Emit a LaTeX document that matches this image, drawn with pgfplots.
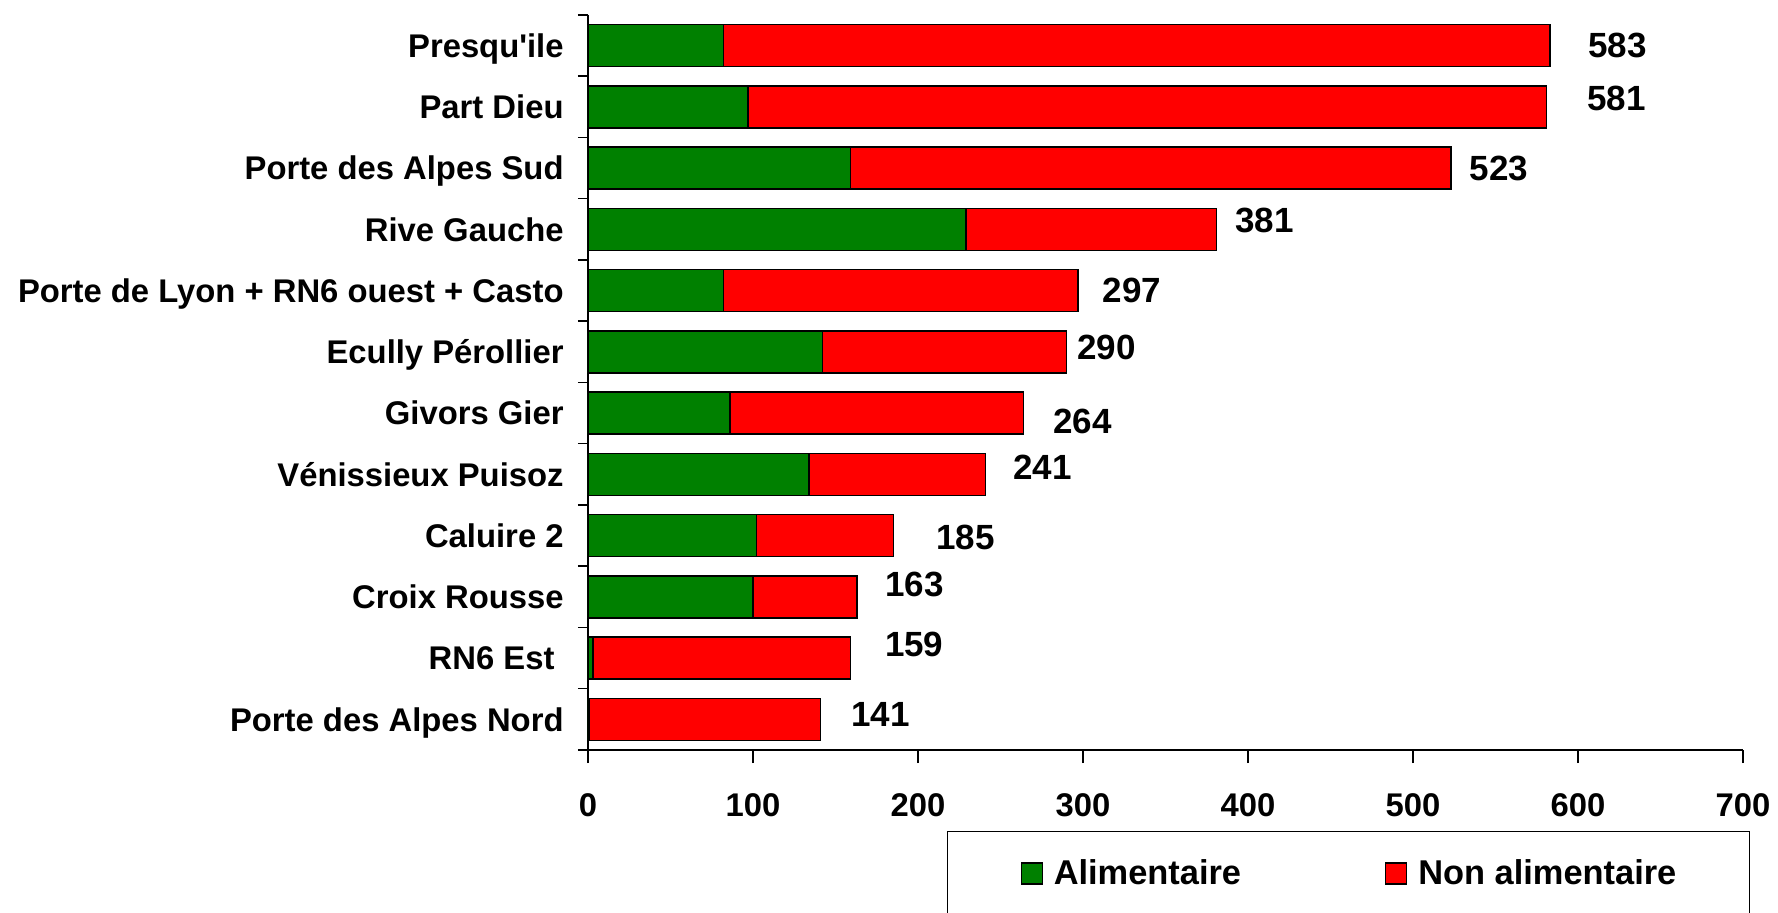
\documentclass[border=0pt]{standalone}
\usepackage{fontspec}
\setmainfont{Liberation Sans}
\usepackage{pgfplots}
\usepackage{pgfplotstable}
\pgfplotsset{compat=1.18}

\definecolor{alimgreen}{RGB}{0,128,0}
\definecolor{nonalimred}{RGB}{255,0,0}

% Surfaces de vente par pôle : alimentaire / non alimentaire, total,
% et décalage (pt) de l'étiquette du total par rapport au bout de la barre
\pgfplotstableread{
idx alim non total dx dy
0   82   501 583  18.75  0
1   97   484 581  20     4
2   159  364 523  9      0
3   229  152 381  9      4.5
4   82   215 297  12     0
5   142  148 290  5      2
6   86   178 264  14.5  -4
7   134  107 241  13.5   3.5
8   102  83  185  21.3  -0.75
9   100  63  163  13.8   6.25
10  3    156 159  17     6.7
11  1    140 141  15     2.5
}\poles

\newcommand{\lblfont}{\fontsize{16.4}{19.7}\selectfont\bfseries}
\newcommand{\valfont}{\fontsize{17.5}{21}\selectfont\bfseries}
\newcommand{\legfont}{\fontsize{17.2}{20.6}\selectfont\bfseries}

\begin{document}
\begin{tikzpicture}
\path[use as bounding box] (0,0) rectangle (889pt,456.5pt);
\begin{axis}[
  at={(294pt,81.5pt)}, anchor=south west,
  scale only axis, width=577.5pt, height=367.5pt,
  xbar stacked, bar width=21pt,
  xmin=0, xmax=700, ymin=-0.5, ymax=11.5, y dir=reverse,
  axis x line*=bottom, axis y line*=left,
  axis line style={line width=0.75pt},
  tick align=outside,
  major tick length=5pt,
  tick style={line width=0.75pt, black},
  xtick={0,100,...,700},
  xtick style={/pgfplots/major tick length=6.5pt},
  xticklabel style={font=\lblfont, inner sep=0pt, anchor=north, yshift=-16.7pt},
  /pgf/number format/assume math mode=true,
  ytick={-0.5,0.5,...,11.5}, yticklabels={},
  extra y ticks={0,1,...,11},
  extra y tick labels={Presqu\textquotesingle ile, Part Dieu, Porte des Alpes Sud,
    Rive Gauche, Porte de Lyon + RN6 ouest + Casto, Ecully Pérollier,
    Givors Gier, Vénissieux Puisoz, Caluire 2, Croix Rousse,
    RN6 Est\hspace*{0.278em}, Porte des Alpes Nord},
  extra y tick style={major tick length=0pt,
    yticklabel style={font=\lblfont, inner sep=0pt, anchor=base east,
      xshift=-12pt, yshift=-5.9pt}},
  legend columns=2,
  legend style={at={(0.3108,-0.1102)}, anchor=north west,
    draw=black, line width=0.6pt, inner xsep=36.5pt, inner ysep=14pt,
    font=\legfont, nodes={inner sep=0pt},
    /tikz/every even column/.append style={column sep=72pt},
    /tikz/every odd column/.append style={column sep=5.5pt}},
  legsq/.style={legend image code/.code={
    \draw[##1, line width=0.6pt] (0pt,-5.25pt) rectangle (10.5pt,5.25pt);}},
]
\addplot[fill=alimgreen, draw=black, line width=0.65pt, legsq]
  table[x=alim, y=idx]{\poles};
% les étiquettes des totaux partent du milieu du segment rouge :
% on les repousse d'une demi-longueur de segment (0.825pt par unité)
\addplot[fill=nonalimred, draw=black, line width=0.65pt, legsq,
  nodes near coords, point meta=explicit symbolic,
  visualization depends on={\thisrow{non}*0.4125+\thisrow{dx} \as \lbldx},
  visualization depends on={\thisrow{dy} \as \lbldy},
  every node near coord/.append style={anchor=west, inner sep=0pt,
    xshift=\lbldx pt, yshift=\lbldy pt, font=\valfont, text=black}]
  table[x=non, y=idx, meta=total]{\poles};
\legend{Alimentaire, Non alimentaire}
\end{axis}
\end{tikzpicture}
\end{document}
